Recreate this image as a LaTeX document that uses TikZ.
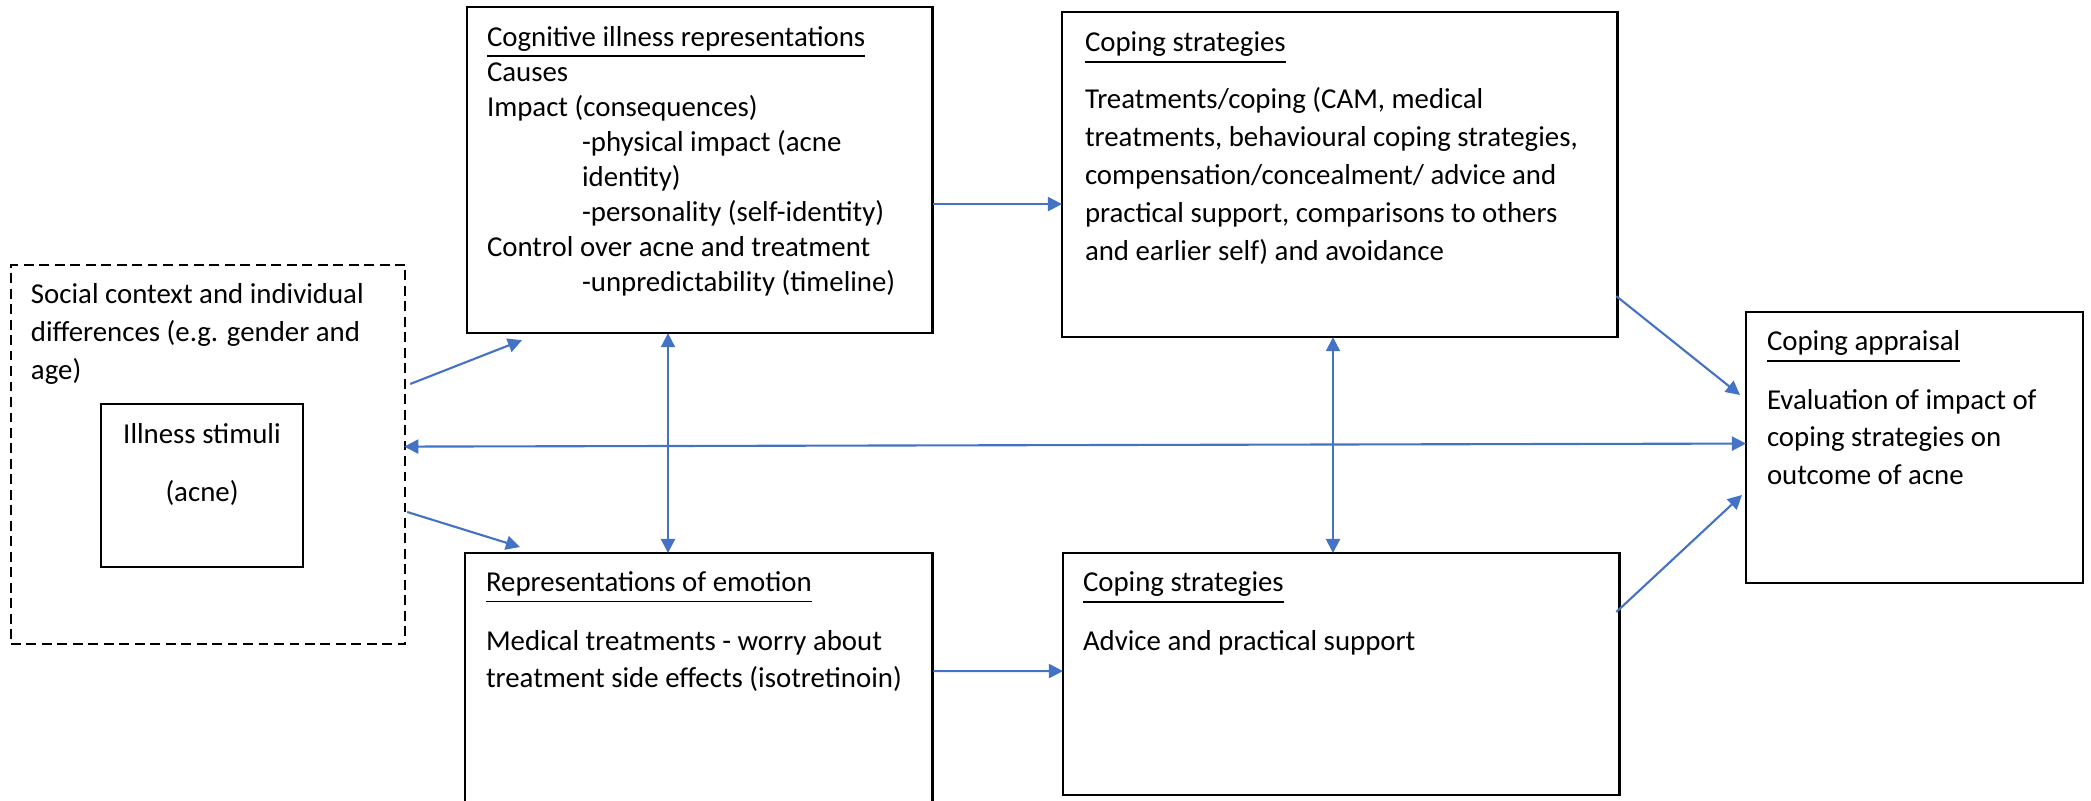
\documentclass[tikz,border=0pt]{standalone}
\usepackage{fontspec}
\setmainfont{Carlito}
\usepackage{tikz}
\usetikzlibrary{positioning,arrows.meta,calc}
\definecolor{wordblue}{HTML}{4472C4}

\begin{document}
\begin{tikzpicture}[x=0.01cm,y=-0.01cm,
  every node/.style={font=\fontsize{8.2}{10.8}\selectfont,inner sep=0pt,outer sep=0pt},
  box/.style={draw,line width=0.7pt,anchor=north west},
  txt/.style={anchor=north west,align=left},
  link/.style={wordblue,line width=0.6pt,-{Triangle[length=4pt,width=4pt]}},
  twoway/.style={link,{Triangle[length=4pt,width=4pt]}-{Triangle[length=4pt,width=4pt]}}]
  \useasboundingbox (0,0) rectangle (2091,801);
  \clip (0,0) rectangle (2091,801);
  % boxes
  \node[box,dashed,dash pattern=on 2.8pt off 1.6pt,minimum width=3.94cm,minimum height=3.79cm] (social) at (11,265) {};
  \node[box,minimum width=2.02cm,minimum height=1.63cm] (stim) at (101,404) {};
  \node[box,minimum width=4.65cm,minimum height=3.26cm] (cog) at (467,7) {};
  \node[box,minimum width=4.67cm,minimum height=2.60cm] (emo) at (465,553) {};
  \node[box,minimum width=5.55cm,minimum height=3.25cm] (copeA) at (1062,12) {};
  \node[box,minimum width=5.56cm,minimum height=2.42cm] (copeB) at (1063,553) {};
  \node[box,minimum width=3.37cm,minimum height=2.71cm] (appr) at (1746,312) {};
  % texts
  \node[txt] (socialtxt) at (31,277) {\strut Social context and individual\\differences (e.g. gender and\\age)};
  \node[anchor=north,align=center] (stimtxt) at (202,417) {\strut Illness stimuli\\[5.7pt](acne)};
  \node[txt,font=\fontsize{8.2}{9.96}\selectfont] (cogtxt) at (487,21.5) {\strut\underline{Cognitive illness representations}\\
    Causes\\
    Impact (consequences)\\
    \hspace*{0.95cm}-physical impact (acne\\
    \hspace*{0.95cm}identity)\\
    \hspace*{0.95cm}-personality (self-identity)\\
    Control over acne and treatment\\
    \hspace*{0.95cm}-unpredictability (timeline)};
  \node[txt] (copeAtxt) at (1085,25.4) {\strut\underline{Coping strategies}\\[5.4pt]
    Treatments/coping (CAM, medical\\
    treatments, behavioural coping strategies,\\
    compensation/concealment/ advice and\\
    practical support, comparisons to others\\
    and earlier self) and avoidance};
  \node[txt] (emotxt) at (486,565.4) {\strut\underline{Representations of emotion}\\[5.7pt]
    Medical treatments - worry about\\
    treatment side effects (isotretinoin)};
  \node[txt] (copeBtxt) at (1083,565.4) {\strut\underline{Coping strategies}\\[5.7pt]
    Advice and practical support};
  \node[txt] (apprtxt) at (1767,324.4) {\strut\underline{Coping appraisal}\\[5.7pt]
    Evaluation of impact of\\
    coping strategies on\\
    outcome of acne};
  % arrows
  \draw[link] ($(social.north east)+(5,119)$) -- ($(cog.south west)+(55,7)$);
  \draw[link] ($(social.north east)+(2,247)$) -- ($(emo.north west)+(55,-6)$);
  \draw[twoway] ($(social.east)+(-1,-8)$) -- ($(appr.west)+(0,-4)$);
  \draw[twoway] ($(cog.south west)+(201,0)$) -- ($(emo.north west)+(203,0)$);
  \draw[link] ($(cog.east)+(1,34)$) -- ($(copeA.west)+(0,29.5)$);
  \draw[link] ($(emo.east)+(1,-12)$) -- ($(copeB.west)+(0,-3)$);
  \draw[twoway] ($(copeA.south west)+(271,0)$) -- ($(copeB.north west)+(270,0)$);
  \draw[link] ($(copeA.south east)+(-1,-41)$) -- ($(appr.north west)+(-6,83)$);
  \draw[link] ($(copeB.north east)+(-3,59)$) -- ($(appr.north west)+(-4,183)$);
\end{tikzpicture}
\end{document}
